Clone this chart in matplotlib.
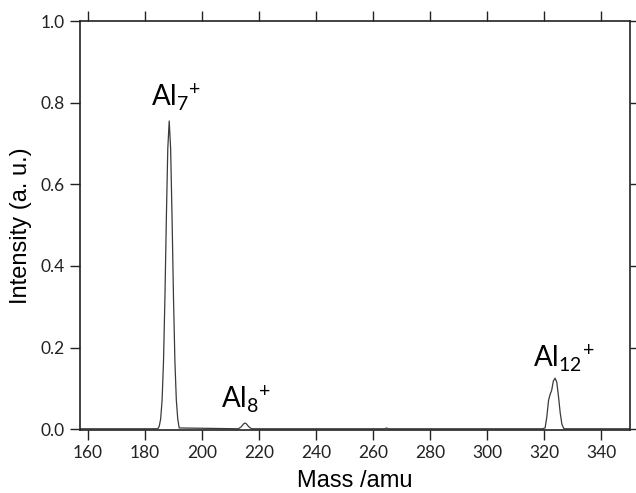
import matplotlib
matplotlib.use('Agg')
import matplotlib.pyplot as plt
import numpy as np

# mass spectrum: (mass, intensity) pairs
mass = [157.0, 184.5, 185.0, 185.5, 186.0, 186.5, 187.0, 187.5, 188.0, 188.5,
        189.0, 189.5, 190.0, 190.5, 191.0, 191.5, 192.0,
        212.8, 213.8, 214.6, 215.1, 215.6, 216.4, 217.4,
        264.2, 264.8, 265.4,
        319.5, 320.4, 321.0, 321.6, 322.1, 322.7, 323.3, 323.9, 324.5, 325.1,
        325.7, 326.3, 326.9, 327.5, 350.5]
intensity = [0.001, 0.001, 0.007, 0.025, 0.071, 0.166, 0.323, 0.517, 0.687, 0.755,
             0.687, 0.517, 0.323, 0.166, 0.071, 0.025, 0.003,
             0.001, 0.006, 0.013, 0.015, 0.013, 0.006, 0.001,
             0.001, 0.003, 0.001,
             0.001, 0.003, 0.030, 0.070, 0.084, 0.095, 0.118, 0.125, 0.115, 0.080,
             0.040, 0.012, 0.002, 0.001, 0.001]

# peak labels
peak_labels = [r'$\mathregular{Al_{7}{}^{+}}$', r'$\mathregular{Al_{8}{}^{+}}$',
               r'$\mathregular{Al_{12}{}^{+}}$']
label_x = [191.0, 215.5, 327.0]
label_y = [0.792, 0.050, 0.152]

xticks = np.arange(160, 341, 20)
yticks = [0.0, 0.2, 0.4, 0.6, 0.8, 1.0]

plt.rcParams['font.family'] = 'Lato'
plt.rcParams['mathtext.fontset'] = 'custom'
plt.rcParams['mathtext.rm'] = 'Lato'
plt.rcParams['mathtext.it'] = 'Lato:italic'
plt.rcParams['mathtext.bf'] = 'Lato:bold'

fig = plt.figure(figsize=(6.36, 4.93), dpi=100)
ax = fig.add_axes([0.1258, 0.1278, 0.8648, 0.8296])

ax.plot(mass, intensity, color='#3a3a3a', lw=0.9)

for txt, x, y in zip(peak_labels, label_x, label_y):
    ax.text(x, y, txt, fontsize=20, ha='center', va='baseline', color='black')

ax.set_xlim(157.2, 350.2)
ax.set_ylim(-0.002, 1.0)
ax.set_xticks(xticks)
ax.set_yticks(yticks)
ax.set_yticklabels(['%.1f' % v for v in yticks])

ax.tick_params(axis='both', which='major', direction='out', length=7, width=1.0,
               color='#222222', labelsize=12.5, top=True, right=True,
               labeltop=False, labelright=False, pad=4)
for lab in ax.get_xticklabels() + ax.get_yticklabels():
    lab.set_color('#222222')

for s in ax.spines.values():
    s.set_linewidth(1.2)
    s.set_color('#222222')

ax.set_xlabel('Mass /amu', fontsize=17, family='Liberation Sans', labelpad=6)
ax.set_ylabel('Intensity (a. u.)', fontsize=17, family='Liberation Sans', labelpad=6)

fig.savefig('out.png', dpi=100)
